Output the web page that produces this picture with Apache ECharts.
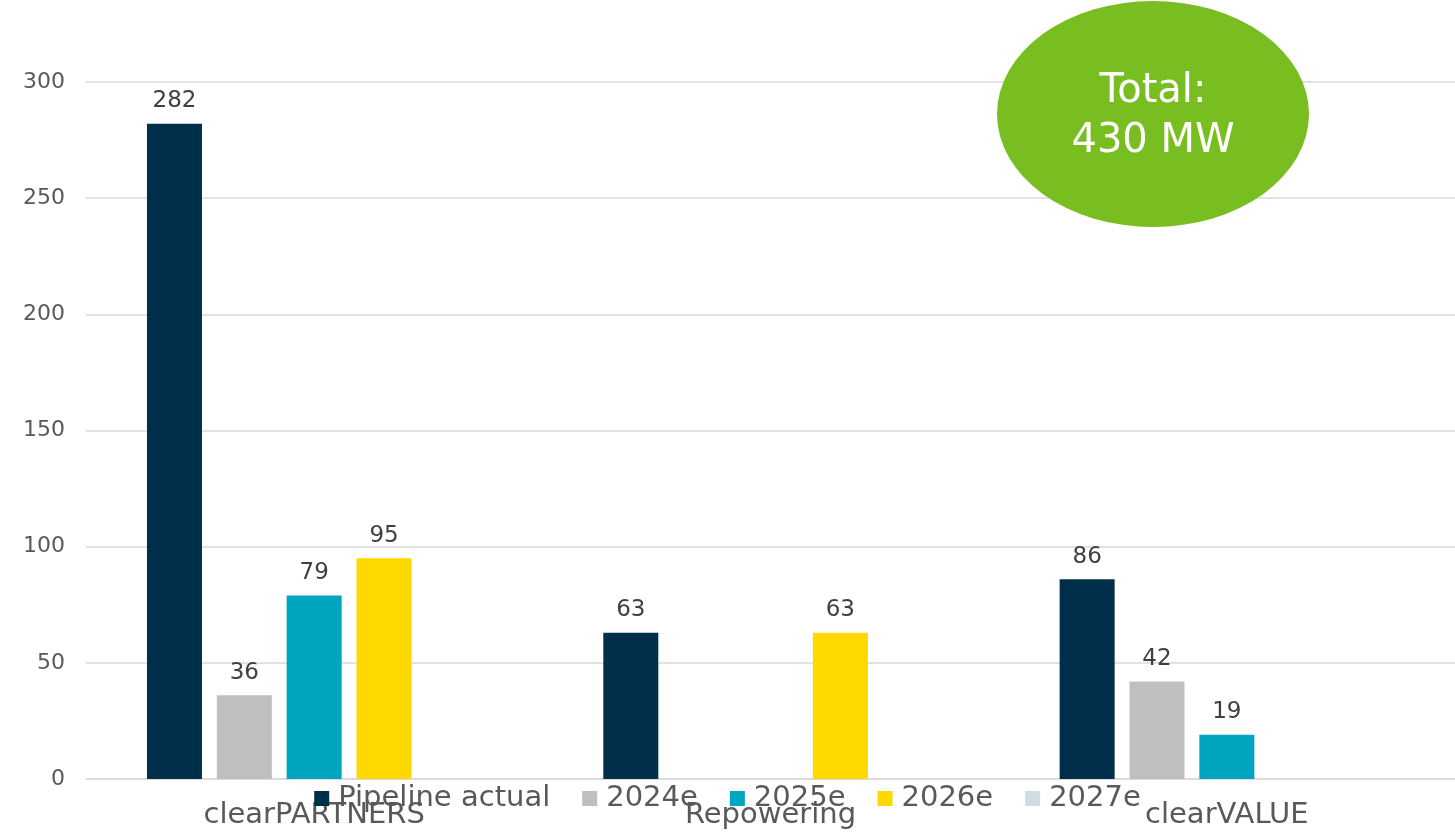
<!DOCTYPE html>
<html>
<head>
<meta charset="utf-8">
<script src="https://cdn.jsdelivr.net/npm/echarts@6/dist/echarts.min.js"></script>
<style>
html,body{margin:0;padding:0;background:#fff;}
#chart{width:1455px;height:833px;}
</style>
</head>
<body>
<div id="chart"></div>
<script>
var categories = ['clearPARTNERS', 'Repowering', 'clearVALUE'];
var seriesNames = ['Pipeline actual', '2024e', '2025e', '2026e', '2027e'];
var pipelineActual = [282, 63, 86];
var e2024 = [36, null, 42];
var e2025 = [79, null, 19];
var e2026 = [95, 63, null];
var e2027 = [null, null, null];
var yTicks = [0, 50, 100, 150, 200, 250, 300];
var totalText = ['Total:', '430 MW'];

var colors = ['#003049', '#bfbfbf', '#00a5c0', '#ffd800', '#cfdde2'];
var allData = [pipelineActual, e2024, e2025, e2026, e2027];
var FONT = '"DejaVu Sans", "Noto Sans", sans-serif';

var chart = echarts.init(document.getElementById('chart'));
chart.setOption({
  animation: false,
  color: colors,
  grid: { left: 86, right: 0, top: 82, bottom: 54, containLabel: false },
  legend: {
    data: seriesNames,
    top: 779,
    left: 'center',
    itemWidth: 15,
    itemHeight: 15,
    itemGap: 32,
    icon: 'rect',
    textStyle: { color: '#595959', fontSize: 29, fontFamily: FONT, padding: [0, 0, 0, 4] }
  },
  xAxis: {
    type: 'category',
    data: categories,
    axisLine: { lineStyle: { color: '#d9d9d9', width: 1.5 } },
    axisTick: { show: false },
    axisLabel: { color: '#595959', fontSize: 29, fontFamily: FONT, margin: 22 }
  },
  yAxis: {
    type: 'value',
    min: yTicks[0],
    max: yTicks[yTicks.length - 1],
    interval: 50,
    axisLine: { show: false },
    axisTick: { show: false },
    splitLine: { lineStyle: { color: '#d9d9d9', width: 1.5 } },
    axisLabel: { color: '#595959', fontSize: 22, fontFamily: FONT, margin: 21 }
  },
  series: seriesNames.map(function (n, i) {
    return {
      name: n,
      type: 'bar',
      data: allData[i],
      barWidth: 55,
      barGap: '27%',
      itemStyle: { color: colors[i] },
      label: {
        show: true,
        position: 'top',
        distance: 11,
        color: '#404040',
        fontSize: 23,
        fontFamily: FONT
      }
    };
  }),
  graphic: [
    {
      type: 'group',
      left: 997,
      top: 1,
      z: 100,
      children: [
        {
          type: 'circle',
          z: 100,
          shape: { cx: 156, cy: 156, r: 156 },
          scaleY: 113 / 156,
          style: { fill: '#78be20' }
        },
        {
          type: 'text',
          z: 101,
          x: 156,
          y: 116,
          style: {
            text: totalText.join('\n'),
            fill: '#ffffff',
            font: '40px ' + FONT,
            lineHeight: 50,
            align: 'center',
            verticalAlign: 'middle'
          }
        }
      ]
    }
  ]
});
</script>
</body>
</html>
